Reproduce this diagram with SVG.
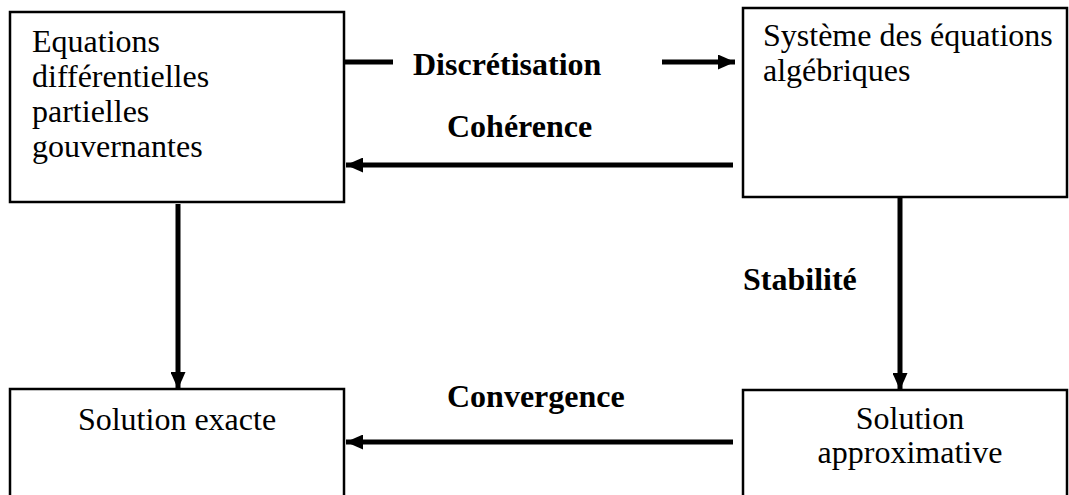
<svg xmlns="http://www.w3.org/2000/svg" width="1069" height="495" viewBox="0 0 1069 495">
  <style>
    .box { fill: #fff; stroke: #000; stroke-width: 2.5; }
    .t { font-family: "Liberation Serif", "Times New Roman", serif; font-size: 32px; fill: #000; }
    .b { font-family: "Liberation Serif", "Times New Roman", serif; font-size: 32px; font-weight: bold; fill: #000; }
    .c { stroke: #000; stroke-width: 5; fill: none; }
  </style>
  <defs>
    <marker id="ah" viewBox="0 0 10 10" refX="10" refY="5" markerWidth="3.4" markerHeight="3" orient="auto" markerUnits="strokeWidth" preserveAspectRatio="none">
      <path d="M0,0 L10,5 L0,10 z" fill="#000"/>
    </marker>
  </defs>
  <rect width="1069" height="495" fill="#fff"/>

  <g id="n-edp">
    <rect class="box" x="10" y="12" width="334" height="190"/>
    <text class="t" x="32" y="52">Equations</text>
    <text class="t" x="32" y="87">différentielles</text>
    <text class="t" x="32" y="122">partielles</text>
    <text class="t" x="32" y="157">gouvernantes</text>
  </g>
  <g id="n-systeme">
    <rect class="box" x="743" y="8" width="324" height="189"/>
    <text class="t" x="763" y="46">Système des équations</text>
    <text class="t" x="763" y="81">algébriques</text>
  </g>
  <g id="n-exacte">
    <rect class="box" x="10" y="389" width="334" height="120"/>
    <text class="t" x="177" y="430" text-anchor="middle">Solution exacte</text>
  </g>
  <g id="n-approx">
    <rect class="box" x="743" y="390" width="324" height="120"/>
    <text class="t" x="910" y="429" text-anchor="middle">Solution</text>
    <text class="t" x="910" y="463" text-anchor="middle">approximative</text>
  </g>

  <g id="connectors">
    <line class="c" x1="345" y1="62" x2="393" y2="62"/>
    <line class="c" x1="662" y1="62" x2="735" y2="62" marker-end="url(#ah)"/>
    <text class="b" x="413" y="75">Discrétisation</text>

    <line class="c" x1="733" y1="165" x2="346" y2="165" marker-end="url(#ah)"/>
    <text class="b" x="447" y="137">Cohérence</text>

    <line class="c" x1="178" y1="204" x2="178" y2="389" marker-end="url(#ah)"/>

    <line class="c" x1="900" y1="197" x2="900" y2="390" marker-end="url(#ah)"/>
    <text class="b" x="743" y="290">Stabilité</text>

    <line class="c" x1="733" y1="442" x2="346" y2="442" marker-end="url(#ah)"/>
    <text class="b" x="447" y="407">Convergence</text>
  </g>
</svg>
